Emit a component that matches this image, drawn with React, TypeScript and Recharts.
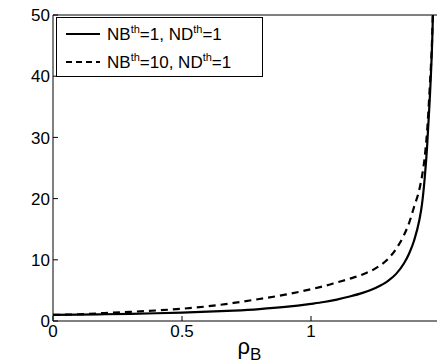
import { LineChart, Line, XAxis, YAxis, Legend } from "recharts";

const rho = [
  0, 0.1, 0.2, 0.3, 0.4, 0.5, 0.6, 0.7, 0.8, 0.9, 1.0, 1.05, 1.1, 1.15, 1.2,
  1.25, 1.3, 1.33, 1.36, 1.38, 1.4, 1.42, 1.43, 1.44, 1.45, 1.46, 1.47, 1.475,
];
const nb1 = [
  1.0, 1.03, 1.1, 1.18, 1.27, 1.38, 1.52, 1.7, 1.95, 2.3, 2.8, 3.1, 3.5, 4.0,
  4.6, 5.4, 6.6, 7.7, 9.4, 11, 13.2, 16.5, 19, 23, 28.5, 36, 46, 54,
];
const nb10 = [
  1.0, 1.1, 1.3, 1.5, 1.72, 2.0, 2.4, 2.95, 3.6, 4.3, 5.2, 5.7, 6.3, 6.9, 7.6,
  8.6, 10.2, 11.8, 14, 16, 18.7, 21.5, 23.6, 26.5, 31, 38, 47, 55,
];
const xTicks = [0, 0.5, 1];
const yTicks = [0, 10, 20, 30, 40, 50];

const data = rho.map((r, i) => ({ rho: r, nb1: nb1[i], nb10: nb10[i] }));

const font = "'Liberation Sans', Arial, Helvetica, sans-serif";
const tickStyle = { fontSize: 17, fill: "#000", fontFamily: font };

function YTick(props: any) {
  const { x, y, payload } = props;
  return (
    <text x={x} y={y} dy="0.36em" textAnchor="end" {...tickStyle}>
      {payload.value}
    </text>
  );
}

function LegendBox() {
  const rows = [
    { nb: "1", dash: undefined, y: 17 },
    { nb: "10", dash: "6 4", y: 45 },
  ];
  return (
    <svg width={207} height={60} style={{ display: "block" }}>
      <rect x={0.5} y={0.5} width={206} height={59} fill="#fff" stroke="#000" />
      {rows.map((r) => (
        <g key={r.nb}>
          <line
            x1={10}
            x2={44}
            y1={r.y}
            y2={r.y}
            stroke="#000"
            strokeWidth={2}
            strokeDasharray={r.dash}
          />
          <text x={51} y={r.y + 6} fontSize={17} fontFamily={font} fill="#000">
            NB
            <tspan fontSize={11} dy={-7}>th</tspan>
            <tspan dy={7}>={r.nb}, ND</tspan>
            <tspan fontSize={11} dy={-7}>th</tspan>
            <tspan dy={7}>=1</tspan>
          </text>
        </g>
      ))}
    </svg>
  );
}

function RhoLabel(props: any) {
  const vb = props.viewBox || {};
  const cx = (vb.x ?? 53) + (vb.width ?? 387) / 2;
  return (
    <text x={cx - 9} y={354} fontFamily={font} fill="#000">
      <tspan fontSize={22}>ρ</tspan>
      <tspan fontSize={17} dy={6}>B</tspan>
    </text>
  );
}

export default function App() {
  return (
    <div style={{ margin: "-8px 0 0 -8px", width: 445, height: 363, background: "#fff" }}>
      <LineChart
        width={445}
        height={363}
        data={data}
        margin={{ top: 14, right: 4, bottom: 0, left: 0 }}
      >
        <XAxis
          dataKey="rho"
          type="number"
          domain={[0, 1.5]}
          ticks={xTicks}
          height={42}
          tickSize={-5}
          tickMargin={9}
          stroke="#000"
          tick={tickStyle}
          label={{ content: RhoLabel }}
        />
        <XAxis
          xAxisId="top"
          dataKey="rho"
          type="number"
          orientation="top"
          domain={[0, 1.5]}
          ticks={xTicks}
          height={1}
          tickSize={-5}
          tick={false}
          stroke="#000"
        />
        <YAxis
          type="number"
          domain={[0, 50]}
          ticks={yTicks}
          allowDataOverflow
          width={53}
          tickSize={-5}
          tickMargin={8}
          stroke="#000"
          tick={<YTick />}
        />
        <YAxis
          yAxisId="right"
          orientation="right"
          type="number"
          domain={[0, 50]}
          ticks={yTicks}
          width={1}
          tickSize={-5}
          tick={false}
          stroke="#000"
        />
        <Legend
          layout="vertical"
          align="center"
          verticalAlign="middle"
          wrapperStyle={{ position: "absolute", top: 17, left: 56, width: 207 }}
          content={() => <LegendBox />}
        />
        <Line
          dataKey="nb1"
          type="monotone"
          stroke="#000"
          strokeWidth={2.2}
          dot={false}
          isAnimationActive={false}
        />
        <Line
          dataKey="nb10"
          type="monotone"
          stroke="#000"
          strokeWidth={2.2}
          strokeDasharray="7 5"
          dot={false}
          isAnimationActive={false}
        />
      </LineChart>
    </div>
  );
}
